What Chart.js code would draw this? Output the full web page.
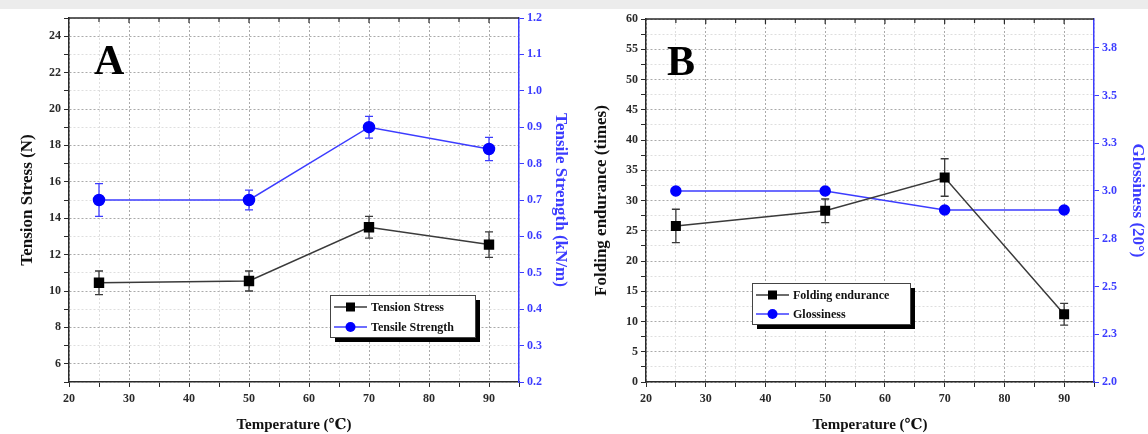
<!DOCTYPE html>
<html lang="en">
<head>
<meta charset="UTF-8">
<title>Temperature effects</title>
<script src="https://cdn.jsdelivr.net/npm/chart.js@4.4.0/dist/chart.umd.min.js"></script>
<style>
  html, body { margin: 0; padding: 0; background: #fff; }
  body { width: 1148px; height: 434px; position: relative; overflow: hidden; }
  #strip { position: absolute; left: 0; top: 0; width: 1148px; height: 9px; background: #ececec; }
  canvas { position: absolute; top: 0; }
  #chartA { left: 0; }
  #chartB { left: 574px; }
</style>
</head>
<body>
<div id="strip"></div>
<canvas id="chartA" width="574" height="434"></canvas>
<canvas id="chartB" width="574" height="434"></canvas>
<script>
// data
const temps = [25, 50, 70, 90];
const tensionStress = [10.45, 10.55, 13.5, 12.55];
const tensionStressErr = [0.65, 0.55, 0.6, 0.7];
const tensileStrength = [0.70, 0.70, 0.90, 0.84];
const tensileStrengthErr = [0.045, 0.027, 0.03, 0.032];
const foldingEndurance = [25.8, 28.3, 33.8, 11.2];
const foldingEnduranceErr = [2.75, 1.95, 3.1, 1.8];
const glossiness = [3.0, 3.0, 2.9, 2.9];

const serif = "'Liberation Serif', 'Times New Roman', 'DejaVu Serif', serif";
const blue = "#3c3cff";
const dark = "#2a2a2a";

function pts(ys) {
    return temps.map((t, i) => ({x: t, y: ys[i]}))
}

// vertical error bars, drawn under the markers
const errorBars = {
    id: "errorBars",
    beforeDatasetsDraw(chart) {
        const ctx = chart.ctx
        chart.data.datasets.forEach((ds, i) => {
            if (!ds.errors) return
            const meta = chart.getDatasetMeta(i)
            const sc = chart.scales[ds.yAxisID]
            ctx.save()
            ctx.strokeStyle = ds.borderColor
            ctx.lineWidth = 1.3
            ds.data.forEach((p, j) => {
                const e = ds.errors[j]
                if (!e) return
                const x = meta.data[j].x
                const top = sc.getPixelForValue(p.y + e)
                const bot = sc.getPixelForValue(p.y - e)
                ctx.beginPath()
                ctx.moveTo(x, top); ctx.lineTo(x, bot)
                ctx.moveTo(x - 4, top); ctx.lineTo(x + 4, top)
                ctx.moveTo(x - 4, bot); ctx.lineTo(x + 4, bot)
                ctx.stroke()
            })
            ctx.restore()
        })
    }
}

// top frame line with inward ticks mirrored from the bottom axis
const topFrame = {
    id: "topFrame",
    afterDatasetsDraw(chart) {
        const {ctx, chartArea} = chart
        const xs = chart.scales.x
        ctx.save()
        ctx.strokeStyle = dark
        ctx.lineWidth = 1.5
        ctx.beginPath()
        ctx.moveTo(chartArea.left, chartArea.top)
        ctx.lineTo(chartArea.right, chartArea.top)
        ctx.stroke()
        ctx.lineWidth = 1.2
        xs.ticks.forEach(t => {
            if (t.value <= xs.min || t.value >= xs.max) return
            const px = xs.getPixelForValue(t.value)
            const len = t.value % 10 === 0 ? 5 : 4
            ctx.beginPath()
            ctx.moveTo(px, chartArea.top)
            ctx.lineTo(px, chartArea.top + len)
            ctx.stroke()
        })
        ctx.restore()
    }
}

const panelLabel = {
    id: "panelLabel",
    afterDraw(chart, args, opts) {
        const ctx = chart.ctx
        ctx.save()
        ctx.fillStyle = "#000"
        ctx.font = "bold 42px " + serif
        ctx.textBaseline = "alphabetic"
        ctx.fillText(opts.text, opts.x, opts.y)
        ctx.restore()
    }
}

// boxed legend with a drop shadow, like the Origin one
const boxLegend = {
    id: "boxLegend",
    afterDraw(chart, args, o) {
        const ctx = chart.ctx
        ctx.save()
        ctx.fillStyle = "#000"
        ctx.fillRect(o.x + 5, o.y + 5, o.w, o.h)
        ctx.fillStyle = "#fff"
        ctx.fillRect(o.x, o.y, o.w, o.h)
        ctx.strokeStyle = "#444"
        ctx.lineWidth = 1
        ctx.strokeRect(o.x + 0.5, o.y + 0.5, o.w, o.h)
        chart.data.datasets.forEach((ds, i) => {
            const y = o.y + o.first + i * o.gap
            ctx.strokeStyle = ds.borderColor
            ctx.lineWidth = 1.5
            ctx.beginPath()
            ctx.moveTo(o.x + 4, y)
            ctx.lineTo(o.x + 37, y)
            ctx.stroke()
            ctx.fillStyle = ds.backgroundColor
            ctx.beginPath()
            if (ds.pointStyle === "rect") ctx.rect(o.x + 16, y - 4.5, 9, 9)
            else ctx.arc(o.x + 20.5, y, 5, 0, Math.PI * 2)
            ctx.fill()
            ctx.fillStyle = "#111"
            ctx.font = "bold 12px " + serif
            ctx.textBaseline = "middle"
            ctx.fillText(ds.label, o.x + 41, y + 1)
        })
        ctx.restore()
    }
}

function xScale() {
    return {
        type: "linear", position: "bottom", min: 20, max: 95,
        afterFit: s => { s.height = 52 },
        ticks: {stepSize: 5, callback: v => v % 10 === 0 ? v : "", color: dark, padding: 5,
                font: {family: serif, size: 12, weight: "bold"}, maxRotation: 0, autoSkip: false},
        grid: {color: c => c.tick && c.tick.value % 10 === 0 ? "#aaaaaa" : "#dedede",
               tickColor: dark, tickLength: 5, lineWidth: 1},
        border: {color: dark, width: 1.5, dash: [2, 2]},
        title: {display: true, text: "Temperature (℃)", color: "#111",
                font: {family: serif, size: 15, weight: "bold"}, padding: {bottom: 0}}
    }
}

function leftScale(min, max, step, every, title, width) {
    return {
        type: "linear", position: "left", min: min, max: max,
        afterFit: s => { s.width = width },
        ticks: {stepSize: step, callback: v => v % every === 0 ? v : "", color: dark, padding: 3,
                font: {family: serif, size: 12, weight: "bold"}, autoSkip: false},
        grid: {color: c => c.tick && c.tick.value % every === 0 ? "#aaaaaa" : "#dedede",
               tickColor: dark, tickLength: 5, lineWidth: 1},
        border: {color: dark, width: 1.5, dash: [2, 2]},
        title: {display: true, text: title, color: "#111",
                font: {family: serif, size: 17, weight: "bold"}, padding: {top: 17}}
    }
}

function rightScale(min, max, step, title, width, pad) {
    return {
        type: "linear", position: "right", min: min, max: max,
        afterFit: s => { s.width = width },
        ticks: {stepSize: step, includeBounds: false, callback: v => v.toFixed(1), color: blue, padding: 3,
                font: {family: serif, size: 12, weight: "bold"}, autoSkip: false},
        grid: {drawOnChartArea: false, tickColor: blue, tickLength: 5},
        border: {color: blue, width: 1.5},
        title: {display: true, text: title, color: blue,
                font: {family: serif, size: 17, weight: "bold"}, padding: {top: pad}}
    }
}

function series(label, ys, errs, axis, color, fill, style, r) {
    return {
        label: label, data: pts(ys), errors: errs, yAxisID: axis,
        borderColor: color, backgroundColor: fill, pointBackgroundColor: fill,
        pointBorderColor: fill, pointStyle: style, pointRadius: r, borderWidth: 1.5, tension: 0
    }
}

new Chart("chartA", {
    type: "line",
    data: {
        datasets: [
            series("Tension Stress", tensionStress, tensionStressErr, "y", "#3a3a3a", "#000", "rect", 6.3),
            series("Tensile Strength", tensileStrength, tensileStrengthErr, "y1", blue, "#0000ff", "circle", 5.5)
        ]
    },
    options: {
        responsive: false, animation: false, devicePixelRatio: 1,
        layout: {padding: {top: 18, left: 0, right: 0, bottom: 0}},
        scales: {
            x: xScale(),
            y: leftScale(5, 25, 1, 2, "Tension Stress (N)", 69),
            y1: rightScale(0.2, 1.2, 0.1, "Tensile Strength (kN/m)", 55, 3)
        },
        plugins: {
            legend: {display: false}, tooltip: {enabled: false},
            panelLabel: {text: "A", x: 94, y: 74},
            boxLegend: {x: 330, y: 295, w: 145, h: 42, first: 12, gap: 20}
        }
    },
    plugins: [errorBars, topFrame, panelLabel, boxLegend]
});

new Chart("chartB", {
    type: "line",
    data: {
        datasets: [
            series("Folding endurance", foldingEndurance, foldingEnduranceErr, "y", "#3a3a3a", "#000", "rect", 6),
            series("Glossiness", glossiness, null, "y1", blue, "#0000ff", "circle", 5)
        ]
    },
    options: {
        responsive: false, animation: false, devicePixelRatio: 1,
        layout: {padding: {top: 19, left: 0, right: 0, bottom: 0}},
        scales: {
            x: xScale(),
            y: leftScale(0, 60, 2.5, 5, "Folding endurance (times)", 72),
            y1: rightScale(2.0, 3.9, 0.25, "Glossiness (20°)", 54, 0)
        },
        plugins: {
            legend: {display: false}, tooltip: {enabled: false},
            panelLabel: {text: "B", x: 93, y: 75},
            boxLegend: {x: 178, y: 283, w: 158, h: 41, first: 12, gap: 19}
        }
    },
    plugins: [errorBars, topFrame, panelLabel, boxLegend]
});
</script>
</body>
</html>
